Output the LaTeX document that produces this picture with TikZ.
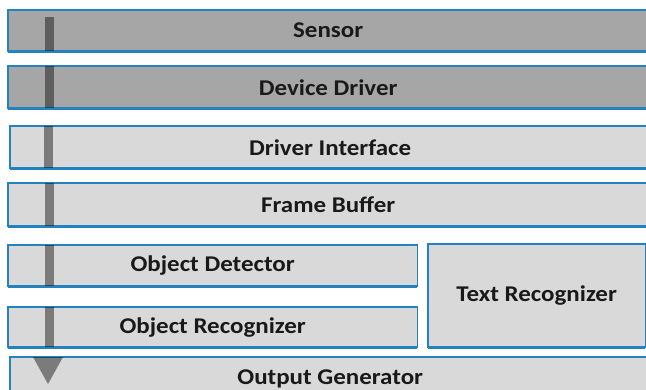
\documentclass[tikz,border=0pt]{standalone}
\usepackage{fontspec}
\setmainfont{Carlito}
\usepackage{graphicx}
\usetikzlibrary{backgrounds}
\definecolor{edgeblue}{RGB}{36,130,190}
\definecolor{darkfill}{RGB}{166,166,166}
\definecolor{lightfill}{RGB}{217,217,217}
\definecolor{txt}{RGB}{25,25,25}
\newcommand{\lbl}[1]{\scalebox{1.11}[1]{\bfseries #1}}
\tikzset{
  layer/.style={rectangle, anchor=north west, inner sep=0pt,
    font=\fontsize{22.5}{25}\selectfont, text=txt},
  darkbox/.style={draw=edgeblue, line width=1.8pt, fill=darkfill},
  lightbox/.style={draw=edgeblue, line width=1.8pt, fill=lightfill},
  bottomedge/.style={draw=edgeblue, line width=3pt},
  flowbar/.style={fill=black, fill opacity=0.43, draw=none}
}
\begin{document}
\begin{tikzpicture}[x=1pt, y=-1pt]
\useasboundingbox (0,0) rectangle (646,389);
\clip (0,0) rectangle (646,389);
\node[layer, minimum width=640pt, minimum height=41pt] (sensor) at (8,10) {\lbl{Sensor}};
\node[layer, minimum width=640pt, minimum height=42pt] (driver) at (8,66) {\lbl{Device Driver}};
\node[layer, minimum width=640pt, minimum height=42pt] (iface) at (10,126) {\lbl{Driver Interface}};
\node[layer, minimum width=640pt, minimum height=43pt] (fbuf) at (8,183) {\lbl{Frame Buffer}};
\node[layer, minimum width=409pt, minimum height=41pt] (odet) at (8,245) {\lbl{Object Detector}};
\node[layer, minimum width=409pt, minimum height=40pt] (orec) at (8,307) {\lbl{Object Recognizer}};
\node[layer, minimum width=217pt, minimum height=103pt] (trec) at (428,244) {\lbl{Text Recognizer}};
\node[layer, minimum width=640pt, minimum height=44pt] (outgen) at (10,357) {\lbl{Output Generator}};
\begin{scope}[on background layer]
  \draw[darkbox] (sensor.north west) rectangle ([xshift=30pt]sensor.south east);
  \draw[darkbox] (driver.north west) rectangle ([xshift=30pt]driver.south east);
  \draw[lightbox] (iface.north west) rectangle ([xshift=30pt]iface.south east);
  \draw[lightbox] (fbuf.north west) rectangle ([xshift=30pt]fbuf.south east);
  \draw[lightbox] (odet.north west) rectangle (odet.south east);
  \draw[lightbox] (orec.north west) rectangle (orec.south east);
  \draw[lightbox] (trec.north west) rectangle (trec.south east);
  \draw[lightbox] (outgen.north west) rectangle ([xshift=30pt]outgen.south east);
  \foreach \n in {sensor,driver,iface,fbuf}
    \draw[bottomedge] (\n.south west) -- ([xshift=30pt]\n.south east);
  \foreach \n in {odet,orec,trec}
    \draw[bottomedge] (\n.south west) -- (\n.south east);
  % flow bar segments
  \fill[flowbar] (45,17) rectangle (54,51);
  \fill[flowbar] (45,66) rectangle (54,108);
  \fill[flowbar] (44,126) rectangle (53,168);
  \fill[flowbar] (45,183) rectangle (54,226);
  \fill[flowbar] (45,245) rectangle (54,286);
  \fill[flowbar] (45,307) rectangle (54,347);
  \coordinate (tipL) at (33,357);
  \coordinate (tipR) at (63,357);
  \coordinate (tipB) at (48,384);
  \fill[flowbar] (tipL) -- (tipR) -- (tipB) -- cycle;
\end{scope}
\end{tikzpicture}
\end{document}
